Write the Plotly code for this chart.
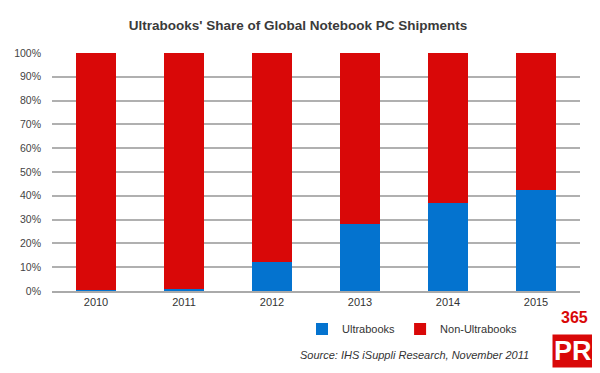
import plotly.graph_objects as go

years = ["2010", "2011", "2012", "2013", "2014", "2015"]
ultra = [0.3, 1.0, 12.0, 28.0, 37.0, 42.5]
non_ultra = [100 - v for v in ultra]
y_ticks = [0, 10, 20, 30, 40, 50, 60, 70, 80, 90, 100]
y_tick_labels = [f"{v}%" for v in y_ticks]

# page body has an 8px margin, so the figure is laid out 8px smaller
W, H = 592, 365
OFF = 8
PL, PR_, PT, PB = 52 - OFF, 580 - OFF, 53 - OFF, 291 - OFF

def px(x):
    return (x - OFF - PL) / (PR_ - PL)

def py(y):
    return (PB - (y - OFF)) / (PB - PT)

fig = go.Figure()
fig.add_trace(go.Bar(x=years, y=ultra, name="Ultrabooks", marker_color="#0473CF",
                     marker_line_width=0))
fig.add_trace(go.Bar(x=years, y=non_ultra, name="Non-Ultrabooks", marker_color="#D90808",
                     marker_line_width=0))

fig.update_layout(
    width=W, height=H,
    barmode="stack", bargap=0.55,
    plot_bgcolor="white", paper_bgcolor="white",
    margin=dict(l=PL, r=W - PR_, t=PT, b=H - PB, autoexpand=False),
    font=dict(family="Liberation Sans, Arial, sans-serif", color="#444444", size=11),
    title=dict(text="<b>Ultrabooks' Share of Global Notebook PC Shipments</b>",
               x=(298 - OFF) / W, xanchor="center", xref="container",
               y=1 - (25 - OFF) / H, yanchor="middle", yref="container",
               font=dict(size=13.5, color="#3a3a3a")),
    xaxis=dict(showgrid=False, showline=True, linecolor="#aaaaaa", linewidth=2,
               tickfont=dict(size=11, color="#333333"), ticks=""),
    yaxis=dict(range=[0, 100], tickvals=y_ticks, ticktext=y_tick_labels,
               showgrid=True, gridcolor="#b0b0b0", gridwidth=1.5, zeroline=False,
               tickfont=dict(size=10.5, color="#444444"), ticklabelstandoff=10),
    legend=dict(orientation="h", xref="container", yref="container",
                x=(302 - OFF) / W, xanchor="left", y=1 - (329 - OFF) / H, yanchor="middle",
                font=dict(size=11, color="#333333"), traceorder="normal",
                itemwidth=30),
    showlegend=True,
)

fig.add_annotation(text="<i>Source: IHS iSuppli Research, November 2011</i>",
                   xref="paper", yref="paper", x=px(531), y=py(355),
                   xanchor="right", yanchor="middle", showarrow=False,
                   font=dict(size=11, color="#333333"))
fig.add_annotation(text="<b>365</b>", xref="paper", yref="paper",
                   x=px(574), y=py(317),
                   xanchor="center", yanchor="middle", showarrow=False,
                   font=dict(size=16, color="#D90808"))
fig.add_annotation(text="<b>PR</b>", xref="paper", yref="paper",
                   x=px(573), y=py(351),
                   xanchor="center", yanchor="middle", showarrow=False,
                   bgcolor="#D90808", font=dict(size=27, color="white"))

fig.write_html("out.html")
